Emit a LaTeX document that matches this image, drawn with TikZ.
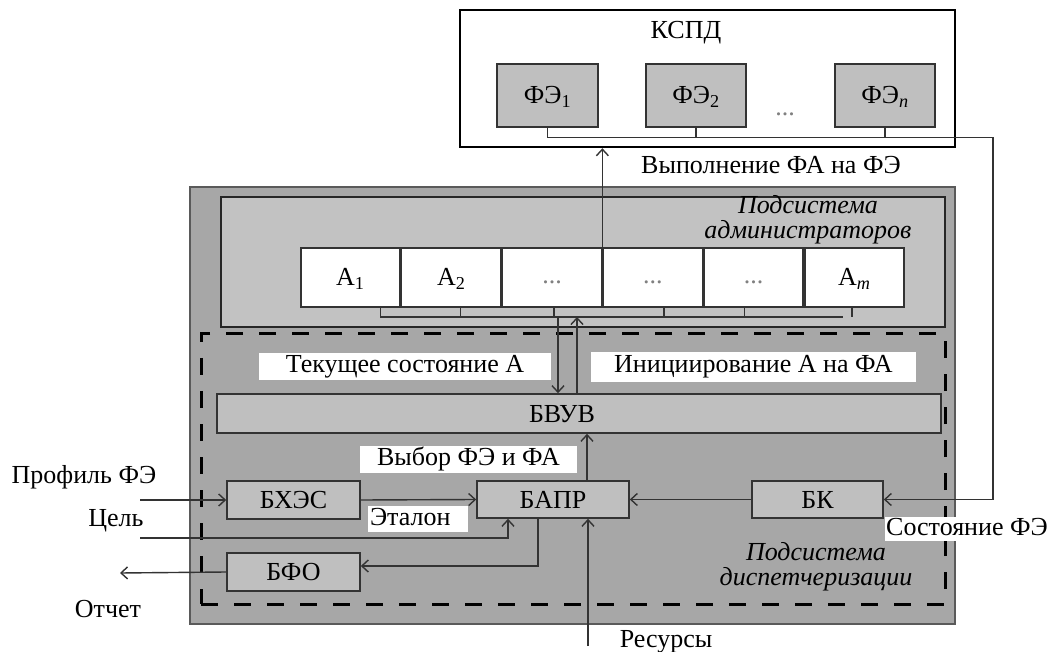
\documentclass[tikz,border=0pt]{standalone}
\usepackage{fontspec}
\setmainfont{Liberation Serif}
\usetikzlibrary{arrows.meta,calc}
\definecolor{outerg}{HTML}{A7A7A7}
\definecolor{outerb}{HTML}{5A5A5A}
\definecolor{adming}{HTML}{C2C2C2}
\definecolor{blockg}{HTML}{BFBFBF}
\definecolor{linec}{HTML}{333333}
\definecolor{dotc}{HTML}{808080}
\begin{document}
\begin{tikzpicture}[x=1pt,y=-1pt,
  every node/.style={font=\fontsize{26}{26}\selectfont, inner sep=0pt},
  one/.style={text height=18pt, text depth=6pt},
  captxt/.style={text height=20pt, text depth=3pt},
  ln/.style={draw=linec, line width=1.4pt},
  arr/.style={ln, -{Straight Barb[length=6.5pt,width=12pt]}},
  blk/.style={captxt, draw=linec, line width=1.6pt, fill=blockg, minimum height=38pt},
  cell/.style={captxt, draw=linec, line width=1.6pt, fill=white, minimum width=99.2pt, minimum height=59pt, anchor=west},
  lbl/.style={one, fill=white},
  subsys/.style={align=center, font=\fontsize{26}{25}\selectfont\itshape},
  dots/.style={one, text=dotc}]
\useasboundingbox (0,0) rectangle (1058,652);

% containers
\node[draw=outerb, line width=1.5pt, fill=outerg, minimum width=765pt, minimum height=437pt] (outer) at (572.5,405.5) {};
\node[draw=black!85, line width=1.8pt, fill=adming, minimum width=724pt, minimum height=130pt] (admin) at (583,262) {};
\node[draw=black, line width=3pt, dash pattern=on 17pt off 16pt, minimum width=744pt, minimum height=270pt] (disp) at (573,469) {};
\node[draw=black, line width=2.5pt, fill=white, minimum width=495pt, minimum height=137pt] (kspd) at (707.5,78.5) {};

% KSPD contents
\node[captxt] (tkspd) at (686,30) {КСПД};
\node[blk, minimum width=101pt, minimum height=63pt] (fe1) at (547.5,95.5) {ФЭ\textsubscript{1}};
\node[blk, minimum width=100pt, minimum height=63pt] (fe2) at (696,95.5) {ФЭ\textsubscript{2}};
\node[dots] (fedots) at (785,110) {...};
\node[blk, minimum width=100pt, minimum height=63pt] (fen) at (885,95.5) {ФЭ\textsubscript{\textit{n}}};
\node[one] (texec) at (771,168) {Выполнение ФА на ФЭ};

% administrators
\node[subsys] (tadm) at (808,219.5) {Подсистема\\администраторов};
\node[cell] (a1) at (300,277.5) {А\textsubscript{1}};
\node[cell] (a2) at (a1.east) {А\textsubscript{2}};
\node[cell, dots] (a3) at (a2.east) {...};
\node[cell, dots] (a4) at (a3.east) {...};
\node[cell, dots] (a5) at (a4.east) {...};
\node[cell] (a6) at (a5.east) {А\textsubscript{\textit{m}}};

% dispatch subsystem
\node[lbl, minimum width=292pt, minimum height=27pt] (ltek) at (405,366.5) {Текущее состояние А};
\node[lbl, minimum width=325pt, minimum height=30pt] (linit) at (753.5,367) {Инициирование А на ФА};
\node[blk, minimum width=724pt, minimum height=39pt] (bvuv) at (579,413.5) {};
\node[captxt] (tbvuv) at (562,413.5) {БВУВ};
\node[lbl, minimum width=217pt, minimum height=27pt] (lvyb) at (468.5,459.5) {Выбор ФЭ и ФА};
\node[blk, minimum width=133pt] (bhes) at (293.5,500) {БХЭС};
\node[blk, minimum width=152pt, minimum height=37pt] (bapr) at (553,499.5) {БАПР};
\node[blk, minimum width=131pt, minimum height=37pt] (bk) at (817.5,499.5) {БК};
\node[blk, minimum width=133pt] (bfo) at (293.5,572) {БФО};
\node[lbl, text width=96pt, align=left, inner xsep=2pt, minimum height=26pt] (letal) at (418,519) {Эталон};
\node[lbl, inner xsep=1pt] (lsost) at (967,529) {Состояние ФЭ};
\node[subsys] (tdisp) at (816,566.5) {Подсистема\\диспетчеризации};

% outside texts
\node[one] (tprof) at (84,477) {Профиль ФЭ};
\node[one] (tgoal) at (116,520) {Цель};
\node[one] (trep) at (108,611) {Отчет};
\node[one] (tres) at (666,641) {Ресурсы};

% coordinates for free ends
\coordinate (loopR) at (993,137.5);
\coordinate (abusL) at (380,317);
\coordinate (abusR) at (843,317);
\coordinate (tdown) at (558,317);
\coordinate (tup) at (577,317);
\coordinate (res) at (588,646);
\coordinate (prof) at (140,500);
\coordinate (goal) at (140,538);
\coordinate (rep) at (120,573);

% KSPD bus and loop to BK
\draw[arr] (fe1.south) |- (loopR) |- (bk.east);
\draw[ln] (fe2.south) -- (fe2.south |- loopR);
\draw[ln] (fen.south) -- (fen.south |- loopR);
\draw[arr] (a3.north east) -- (a3.north east |- kspd.south);

% administrator bus
\draw[ln] (abusL) -- (abusR);
\foreach \c/\dx in {a1/30, a2/9.5, a3/2, a4/11, a5/-9, a6/-2.5}
  \draw[ln] ([xshift=\dx pt]\c.south) -- ([xshift=\dx pt]\c.south |- abusL);
\draw[arr] (tdown) -- (tdown |- bvuv.north);
\draw[arr] (tup |- bvuv.north) -- (tup);

% dispatch connectors
\draw[arr] ([xshift=34pt]bapr.north) -- ([xshift=34pt]bapr.north |- bvuv.south);
\draw[arr] (res) -- (res |- bapr.south);
\draw[arr] (bk.west) -- (bapr.east);
\draw[arr] (bhes.east) -- (bapr.west);
\draw[arr] (prof) -- (bhes.west);
\draw[arr] (goal) -| ([xshift=-45pt]bapr.south);
\draw[arr] ([xshift=-15pt]bapr.south) |- ([yshift=6pt]bfo.east);
\draw[arr] (bfo.west) -- (rep);
\end{tikzpicture}
\end{document}
